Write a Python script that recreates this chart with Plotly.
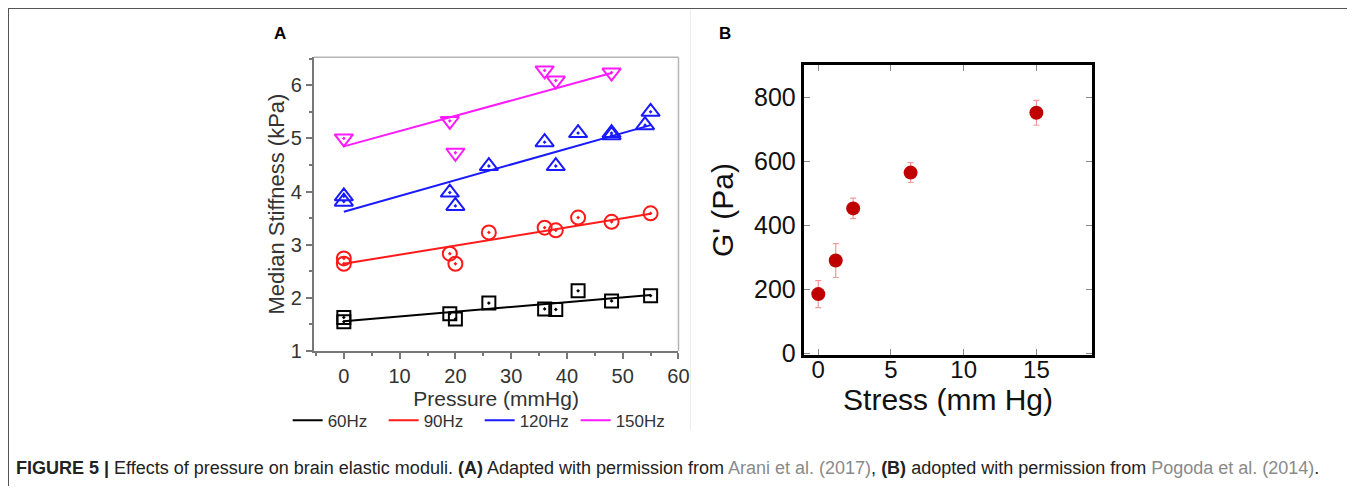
import plotly.graph_objects as go

# The screenshot covers a slightly larger area than the 1355x496 window and is scaled back to
# 1355x496, and the body keeps an 8px margin; positions below are given in final-picture pixels
# and converted to paper coordinates.
IMG_W, IMG_H = 1355, 496
CAP_W, CAP_H = 1369, 508
OFF = 8
W, H = 1350, 490


def fx(X):  # picture pixel -> paper x
    return (X * CAP_W / IMG_W - OFF) / W


def fy(Y):  # picture pixel -> paper y
    return 1 - (Y * CAP_H / IMG_H - OFF) / H


# ---------------- Panel A data ----------------
series_names = ["60Hz", "90Hz", "120Hz", "150Hz"]
series_colors = ["#000000", "#ff1a1a", "#1a1aff", "#ff1aff"]
series_symbols = ["square-open-dot", "circle-open-dot", "triangle-up-open-dot", "triangle-down-open-dot"]

p60_x = [0, 0, 19, 20, 26, 36, 38, 42, 48, 55]
p60_y = [1.63, 1.55, 1.70, 1.60, 1.90, 1.79, 1.78, 2.13, 1.94, 2.04]
p90_x = [0, 0, 19, 20, 26, 36, 38, 42, 48, 55]
p90_y = [2.74, 2.64, 2.83, 2.64, 3.23, 3.32, 3.27, 3.51, 3.43, 3.59]
p120_x = [0, 0, 19, 20, 26, 36, 38, 42, 48, 48, 54, 55]
p120_y = [3.91, 3.81, 3.98, 3.73, 4.48, 4.93, 4.48, 5.10, 5.10, 5.06, 5.25, 5.50]
p150_x = [0, 19, 20, 36, 38, 48]
p150_y = [5.00, 5.33, 4.73, 6.28, 6.09, 6.24]

fit60_x, fit60_y = [0, 55], [1.56, 2.05]
fit90_x, fit90_y = [0, 55], [2.64, 3.58]
fit120_x, fit120_y = [0, 55], [3.62, 5.25]
fit150_x, fit150_y = [0, 48], [4.85, 6.23]

a_xticks = [0, 10, 20, 30, 40, 50, 60]
a_yticks = [1, 2, 3, 4, 5, 6]

# ---------------- Panel B data ----------------
stress = [0, 1.2, 2.4, 6.35, 15]
g_prime = [185, 290, 453, 565, 752]
g_err = [42, 53, 32, 31, 39]
b_xticks = [0, 5, 10, 15]
b_yticks = [0, 200, 400, 600, 800]

caption = ("<b>FIGURE 5 |</b> Effects of pressure on brain elastic moduli. <b>(A)</b> Adapted with permission from "
           "<span style='color:#8a8a8a'>Arani et al. (2017)</span>, <b>(B)</b> adopted with permission from "
           "<span style='color:#8a8a8a'>Pogoda et al. (2014)</span>.")

FONT = "Liberation Sans, Arial, sans-serif"

fig = go.Figure()

pts = [(p60_x, p60_y), (p90_x, p90_y), (p120_x, p120_y), (p150_x, p150_y)]
fits = [(fit60_x, fit60_y), (fit90_x, fit90_y), (fit120_x, fit120_y), (fit150_x, fit150_y)]
sizes = [13, 14, 16, 16]
for name, col, sym, (px_, py_), (lx, ly), sz in zip(series_names, series_colors, series_symbols,
                                                    pts, fits, sizes):
    fig.add_trace(go.Scatter(x=lx, y=ly, mode="lines", name=name,
                             line=dict(color=col, width=2), xaxis="x", yaxis="y"))
    fig.add_trace(go.Scatter(x=px_, y=py_, mode="markers", showlegend=False,
                             marker=dict(symbol=sym, size=sz, color=col, line=dict(color=col, width=2)),
                             xaxis="x", yaxis="y"))

fig.add_trace(go.Scatter(x=stress, y=g_prime, mode="markers", showlegend=False,
                         marker=dict(size=14, color="#c00000"),
                         error_y=dict(type="data", array=g_err, color="#f29a9a", thickness=1.2, width=3),
                         xaxis="x2", yaxis="y2"))

fA = dict(family=FONT, color="#333333")
fB = dict(family=FONT, color="#111111")

fig.update_layout(
    width=W, height=H, margin=dict(l=0, r=0, t=0, b=0),
    paper_bgcolor="white", plot_bgcolor="white",
    xaxis=dict(domain=[fx(313), fx(677)], range=[-5.4, 60], tickvals=a_xticks,
               ticks="outside", ticklen=6, tickcolor="#777", tickwidth=1.5,
               minor=dict(tickvals=[-5, 5, 15, 25, 35, 45, 55], ticks="outside", ticklen=3, tickcolor="#777"),
               showline=True, linecolor="#777", linewidth=1.5, showgrid=False, zeroline=False,
               tickfont=dict(size=20, **fA),
               title=dict(text="Pressure (mmHg)", font=dict(size=21, **fA), standoff=6),
               anchor="y"),
    yaxis=dict(domain=[fy(351), fy(57)], range=[1, 6.53], tickvals=a_yticks,
               ticks="outside", ticklen=6, tickcolor="#777", tickwidth=1.5,
               minor=dict(tickvals=[1.5, 2.5, 3.5, 4.5, 5.5, 6.5], ticks="outside", ticklen=3, tickcolor="#777"),
               showline=True, linecolor="#777", linewidth=1.5, showgrid=False, zeroline=False,
               tickfont=dict(size=20, **fA),
               title=dict(text="Median Stiffness (kPa)", font=dict(size=22, **fA), standoff=0),
               anchor="x"),
    xaxis2=dict(domain=[fx(802), fx(1090)], range=[-1, 18.85], tickvals=b_xticks,
                ticks="inside", ticklen=6, tickcolor="#888", mirror="ticks",
                showline=True, linecolor="black", linewidth=3, showgrid=False, zeroline=False,
                tickfont=dict(size=24, **fB), ticklabelstandoff=-9,
                title=dict(text="Stress (mm Hg)", font=dict(size=30, **fB), standoff=0),
                anchor="y2"),
    yaxis2=dict(domain=[fy(355), fy(65)], range=[-5, 901], tickvals=b_yticks,
                ticks="inside", ticklen=6, tickcolor="#888", mirror="ticks",
                showline=True, linecolor="black", linewidth=3, showgrid=False, zeroline=False,
                tickfont=dict(size=25, **fB),
                title=dict(text="G' (Pa)", font=dict(size=30, **fB), standoff=12),
                anchor="x2"),
    legend=dict(orientation="h", x=fx(287), y=fy(421), xanchor="left", yanchor="middle",
                font=dict(size=17, family=FONT, color="#333"),
                entrywidth=51, itemwidth=30, bgcolor="rgba(0,0,0,0)"),
    showlegend=True,
)

shapes = [
    # figure frame (top and left)
    dict(type="line", xref="paper", yref="paper", x0=0, x1=1, y0=1, y1=1,
         line=dict(color="#555", width=2)),
    dict(type="line", xref="paper", yref="paper", x0=0, x1=0, y0=0, y1=1,
         line=dict(color="#555", width=2)),
    # panel A top/right frame
    dict(type="line", xref="x domain", yref="y domain", x0=0, x1=1, y0=1, y1=1,
         line=dict(color="#b5b5b5", width=1.5)),
    dict(type="line", xref="x domain", yref="y domain", x0=1, x1=1, y0=0, y1=1,
         line=dict(color="#b5b5b5", width=1.5)),
    # faint edge of panel A image
    dict(type="line", xref="paper", yref="paper", x0=fx(689), x1=fx(689), y0=fy(430), y1=fy(10),
         line=dict(color="#ececec", width=1)),
]
fig.update_layout(shapes=shapes)

ann = [
    dict(text="<b>A</b>", x=fx(279), y=fy(33), xref="paper", yref="paper", showarrow=False,
         xanchor="center", yanchor="middle",
         font=dict(size=17, family=FONT, color="black")),
    dict(text="<b>B</b>", x=fx(723), y=fy(33), xref="paper", yref="paper", showarrow=False,
         xanchor="center", yanchor="middle",
         font=dict(size=17, family=FONT, color="black")),
    dict(text=caption, x=fx(14), y=fy(468), xref="paper", yref="paper", showarrow=False,
         xanchor="left", yanchor="middle",
         font=dict(size=18, family="Liberation Sans Narrow, Arial Narrow, Liberation Sans, sans-serif",
                   color="#222")),
]
fig.update_layout(annotations=ann)

fig.write_html("out.html", config=dict(displayModeBar=False))
